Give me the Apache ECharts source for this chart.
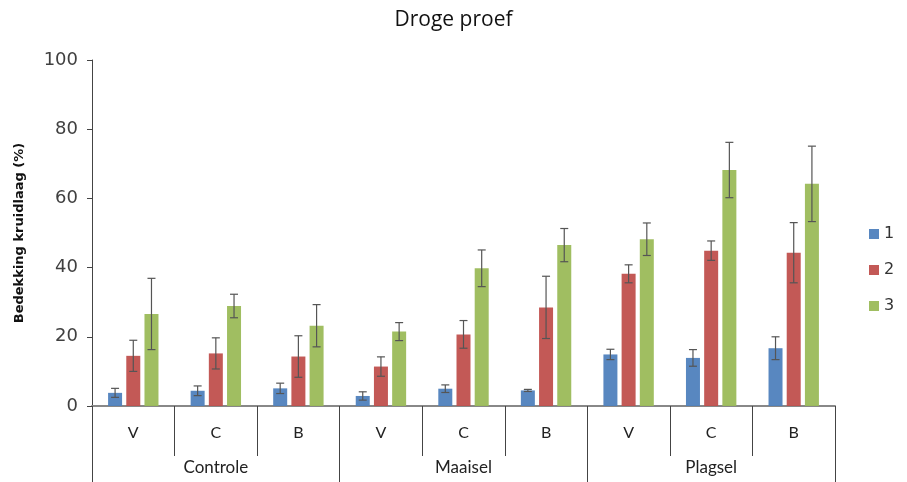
<!DOCTYPE html>
<html>
<head>
<meta charset="utf-8">
<script src="https://cdn.jsdelivr.net/npm/echarts@6/dist/echarts.min.js"></script>
<style>
  html, body { margin: 0; padding: 0; background: #fff; }
  #chart { width: 907px; height: 482px; }
</style>
</head>
<body>
<div id="chart"></div>
<script>
// categorieën
var behandelingen = ['V', 'C', 'B', 'V', 'C', 'B', 'V', 'C', 'B'];
var groepen = ['Controle', 'Maaisel', 'Plagsel'];
var reeksNamen = ['1', '2', '3'];

// gemiddelde bedekking per reeks
var reeks1 = [3.8, 4.4, 5.1, 2.9, 5.0, 4.5, 14.9, 13.9, 16.7];
var reeks2 = [14.5, 15.2, 14.3, 11.4, 20.7, 28.5, 38.2, 44.9, 44.3];
var reeks3 = [26.6, 28.9, 23.2, 21.5, 39.8, 46.5, 48.2, 68.2, 64.2];

// foutmarges (+/-)
var fout1 = [1.3, 1.4, 1.5, 1.2, 1.1, 0.3, 1.5, 2.4, 3.3];
var fout2 = [4.5, 4.5, 6.0, 2.8, 4.0, 9.0, 2.6, 2.8, 8.7];
var fout3 = [10.3, 3.4, 6.1, 2.6, 5.3, 4.8, 4.7, 8.0, 10.9];

var yTicks = [0, 20, 40, 60, 80, 100];

var kleuren = ['#4F81BD', '#C0504D', '#9BBB59'];
var waarden = [reeks1, reeks2, reeks3];
var fouten = [fout1, fout2, fout3];

var barBreedte = 14;
var barStap = 18.2; // breedte + tussenruimte

function foutSerie(idx) {
  var data = waarden[idx].map(function (v, i) {
    return [i, v - fouten[idx][i], v + fouten[idx][i]];
  });
  return {
    type: 'custom',
    name: 'fout' + idx,
    xAxisIndex: 0,
    z: 10,
    silent: true,
    data: data,
    renderItem: function (params, api) {
      var lo = api.coord([api.value(0), api.value(1)]);
      var hi = api.coord([api.value(0), api.value(2)]);
      var x = lo[0] + (idx - 1) * barStap;
      var cap = 4;
      var stijl = { stroke: '#555', lineWidth: 1.2 };
      return {
        type: 'group',
        children: [
          { type: 'line', shape: { x1: x, y1: hi[1], x2: x, y2: lo[1] }, style: stijl },
          { type: 'line', shape: { x1: x - cap, y1: hi[1], x2: x + cap, y2: hi[1] }, style: stijl },
          { type: 'line', shape: { x1: x - cap, y1: lo[1], x2: x + cap, y2: lo[1] }, style: stijl }
        ]
      };
    }
  };
}

var series = [];
for (var s = 0; s < 3; s++) {
  series.push({
    name: reeksNamen[s],
    type: 'bar',
    xAxisIndex: 0,
    barWidth: barBreedte,
    barGap: '30%',
    itemStyle: { color: kleuren[s], opacity: 0.95 },
    data: waarden[s]
  });
}
for (var s = 0; s < 3; s++) {
  series.push(foutSerie(s));
}

var chart = echarts.init(document.getElementById('chart'));
chart.setOption({
  animation: false,
  textStyle: { fontFamily: 'Lato' },
  title: {
    text: 'Droge proef',
    left: 'center',
    top: 5,
    textStyle: { fontSize: 21, fontWeight: 'normal', color: '#111', fontFamily: 'Open Sans' }
  },
  legend: {
    data: reeksNamen,
    orient: 'vertical',
    left: 864,
    top: 221,
    itemWidth: 10,
    itemHeight: 10,
    itemGap: 20,
    icon: 'rect',
    textStyle: { fontSize: 16, color: '#333', fontFamily: 'DejaVu Sans' }
  },
  grid: { left: 92, right: 72, top: 60, bottom: 76, containLabel: false },
  xAxis: [
    {
      type: 'category',
      data: behandelingen,
      position: 'bottom',
      axisLine: { lineStyle: { color: '#888', width: 2 } },
      axisTick: { show: true, alignWithLabel: false, interval: 0, length: 50, lineStyle: { color: '#444', width: 1 } },
      axisLabel: { interval: 0, margin: 19, fontSize: 16, color: '#222' }
    },
    {
      type: 'category',
      data: groepen,
      position: 'bottom',
      axisLine: { show: false },
      axisTick: { show: true, alignWithLabel: false, interval: 0, length: 78, lineStyle: { color: '#444', width: 1 } },
      axisLabel: { interval: 0, margin: 53, fontSize: 17, color: '#222' }
    }
  ],
  yAxis: {
    type: 'value',
    min: yTicks[0],
    max: yTicks[yTicks.length - 1],
    interval: 20,
    name: 'Bedekking kruidlaag (%)',
    nameLocation: 'middle',
    nameGap: 66,
    nameTextStyle: { fontSize: 13, fontWeight: 'bold', color: '#111', fontFamily: 'DejaVu Sans' },
    axisLine: { show: true, lineStyle: { color: '#444', width: 1 } },
    axisTick: { show: true, length: 5, lineStyle: { color: '#444' } },
    axisLabel: { fontSize: 18, color: '#404040', margin: 14, fontFamily: 'DejaVu Sans' },
    splitLine: { show: false }
  },
  series: series
});
</script>
</body>
</html>
